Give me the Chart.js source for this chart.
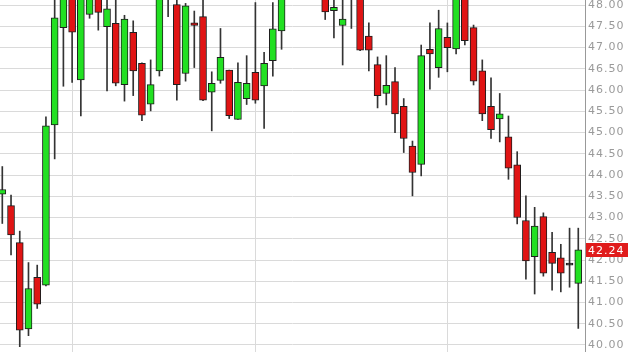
<!DOCTYPE html>
<html>
<head>
<meta charset="utf-8">
<script src="https://cdn.jsdelivr.net/npm/chart.js@4/dist/chart.umd.min.js"></script>
<style>
    html, body { margin: 0; padding: 0; background: #fff; }
    #wrap { width: 628px; height: 352px; position: relative; }
</style>
</head>
<body>
<div id="wrap"><canvas id="candles"></canvas></div>
<script>
// daily candles (values above ~48.1 sit outside the visible window)
const opens = [43.55, 43.28, 42.41, 40.38, 41.59, 41.41, 45.18, 47.47, 48.50, 46.24,
    47.78, 48.20, 47.49, 47.57, 46.13, 47.36, 46.63, 45.67, 46.45, 48.70,
    48.01, 46.39, 47.58, 47.73, 45.95, 46.23, 46.47, 45.31, 45.80, 46.42,
    46.10, 46.69, 47.39, 48.40, 48.80, 49.10, 48.80, 48.30, 47.87, 47.52,
    48.30, 48.50, 47.27, 46.60, 45.92, 46.20, 45.62, 44.68, 44.25, 46.96,
    46.53, 47.24, 46.97, 48.30, 47.47, 46.45, 45.62, 45.32, 44.90, 44.24,
    42.93, 42.08, 43.02, 42.18, 42.05, 41.88, 41.45];
const highs = [44.20, 43.53, 42.68, 41.94, 41.88, 45.37, 48.30, 48.60, 48.80, 48.70,
    48.50, 48.50, 48.30, 48.25, 47.76, 47.63, 46.64, 46.71, 48.50, 49.00,
    48.20, 48.04, 47.86, 48.30, 46.43, 47.45, 46.47, 46.64, 46.81, 48.06,
    46.89, 48.06, 48.60, 49.00, 49.30, 49.40, 49.00, 48.60, 48.25, 48.20,
    48.90, 48.70, 47.58, 46.78, 46.81, 46.53, 45.80, 44.80, 47.06, 47.58,
    47.88, 47.58, 48.70, 48.50, 47.53, 46.71, 46.29, 45.92, 45.39, 44.55,
    43.51, 43.24, 43.11, 42.65, 42.37, 42.75, 42.75];
const lows = [42.86, 42.12, 39.96, 40.22, 40.86, 41.39, 44.38, 46.09, 46.18, 45.39,
    47.69, 47.41, 45.98, 46.10, 45.74, 45.87, 45.28, 45.51, 46.33, 47.73,
    45.76, 46.21, 46.53, 45.75, 45.04, 46.16, 45.33, 45.31, 45.66, 45.69,
    45.10, 46.33, 46.96, 48.20, 48.40, 48.60, 48.30, 47.66, 47.23, 46.59,
    47.45, 46.93, 46.45, 45.58, 45.65, 45.00, 44.53, 43.51, 43.98, 46.02,
    46.30, 46.43, 46.85, 47.06, 46.12, 45.28, 44.86, 44.78, 43.90, 42.85,
    41.55, 41.20, 41.62, 41.29, 41.25, 41.36, 40.39];
const closes = [43.66, 42.59, 40.35, 41.33, 40.96, 45.16, 47.70, 48.40, 47.36, 48.50,
    48.20, 47.83, 47.91, 46.16, 47.67, 46.45, 45.41, 46.13, 48.30, 48.35,
    46.13, 47.98, 47.52, 45.76, 46.16, 46.77, 45.40, 46.18, 46.16, 45.76,
    46.63, 47.44, 48.30, 48.80, 49.10, 48.80, 48.50, 47.84, 47.95, 47.67,
    48.60, 46.94, 46.94, 45.87, 46.11, 45.44, 44.86, 44.06, 46.81, 46.85,
    47.45, 47.00, 48.40, 47.16, 46.21, 45.44, 45.07, 45.44, 44.16, 43.00,
    41.98, 42.80, 41.69, 41.92, 41.69, 41.88, 42.24];

// candle indexes where a new month starts (vertical grid lines)
const monthStarts = [8, 29, 51];
// price axis ticks
const priceTicks = [40, 40.5, 41, 41.5, 42, 42.5, 43, 43.5, 44, 44.5, 45, 45.5, 46, 46.5, 47, 47.5, 48];

const UP = '#22e022';
const DOWN = '#e01414';
const DOJI = '#222222';

const wicks = highs.map((h, i) => ({ x: i, y: [lows[i], h] }));
const bodies = opens.map((o, i) => ({ x: i, y: [Math.min(o, closes[i]), Math.max(o, closes[i])] }));
const bodyColors = opens.map((o, i) => closes[i] > o ? UP : (closes[i] < o ? DOWN : DOJI));

// last price tag on the right axis
const lastPriceTag = {
    id: 'lastPriceTag',
    beforeDraw(chart) {
        chart.ctx.letterSpacing = '1px';
    },
    afterDraw(chart) {
        const y = chart.scales.y;
        const last = closes[closes.length - 1];
        const py = y.getPixelForValue(last);
        const ctx = chart.ctx;
        ctx.save();
        ctx.fillStyle = '#e01b1b';
        ctx.fillRect(y.left + 1, Math.round(py) - 7, chart.width - y.left, 14);
        ctx.fillStyle = '#fff';
        ctx.font = '11px "DejaVu Sans"';
        ctx.textBaseline = 'middle';
        ctx.fillText(last.toFixed(2), y.left + 3, py + 1);
        ctx.restore();
    }
};

new Chart(document.getElementById('candles'), {
    type: 'bar',
    data: {
        datasets: [
            {
                label: 'Body',
                data: bodies,
                backgroundColor: bodyColors,
                borderColor: '#1e1e1e',
                borderWidth: 1,
                borderSkipped: false,
                barThickness: 7,
                minBarLength: 2,
                grouped: false,
                order: 1
            },
            {
                label: 'Wick',
                data: wicks,
                backgroundColor: '#333333',
                borderWidth: 0,
                barThickness: 1,
                grouped: false,
                order: 2
            }
        ]
    },
    plugins: [lastPriceTag],
    options: {
        responsive: true,
        maintainAspectRatio: false,
        animation: false,
        layout: { padding: 0 },
        plugins: {
            legend: { display: false },
            tooltip: { enabled: false },
            title: { display: false }
        },
        scales: {
            x: {
                type: 'linear',
                min: -0.264,
                max: 66.77,
                offset: false,
                grid: { offset: false, color: '#dadada', drawTicks: false },
                border: { display: false },
                ticks: { display: false },
                afterBuildTicks(axis) {
                    axis.ticks = monthStarts.map(v => ({ value: v }));
                },
                afterFit(axis) {
                    axis.height = 0;
                }
            },
            y: {
                position: 'right',
                min: 39.835,
                max: 48.12,
                grid: { color: '#dadada', drawTicks: false },
                border: { display: true, color: '#999999', width: 1 },
                ticks: {
                    padding: 3,
                    color: '#9a9a9a',
                    font: { family: '"DejaVu Sans"', size: 11 },
                    callback: v => Number(v).toFixed(2)
                },
                afterBuildTicks(axis) {
                    axis.ticks = priceTicks.map(v => ({ value: v }));
                },
                afterFit(axis) {
                    axis.width = 43;
                    axis.paddingTop = 0;
                    axis.paddingBottom = 0;
                }
            }
        }
    }
});
</script>
</body>
</html>
